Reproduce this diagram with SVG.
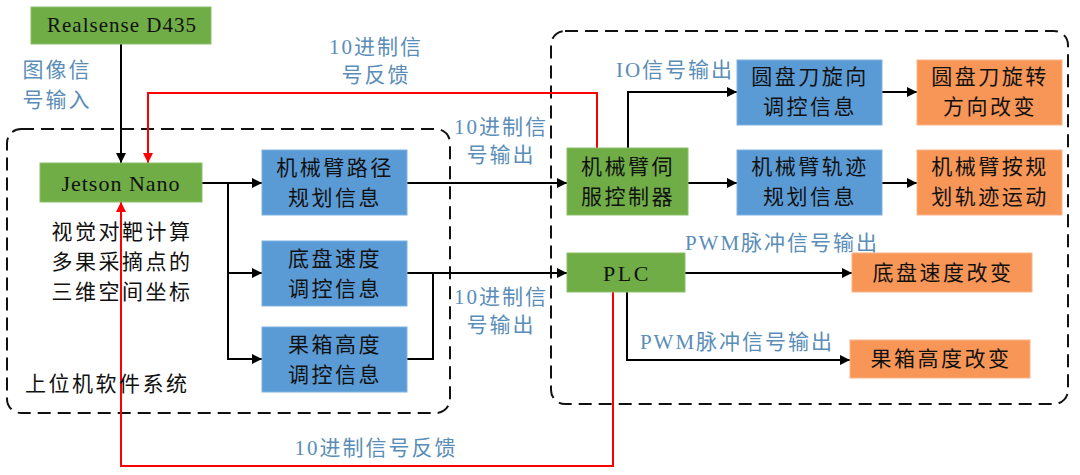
<svg xmlns="http://www.w3.org/2000/svg" width="1080" height="475" viewBox="0 0 1080 475">
<defs>
<marker id="ab" viewBox="0 0 10 10" refX="10" refY="5" markerWidth="10" markerHeight="10" markerUnits="userSpaceOnUse" orient="auto"><path d="M0,0 L10,5 L0,10 z" fill="#000"/></marker>
<marker id="ar" viewBox="0 0 10 10" refX="10" refY="5" markerWidth="10" markerHeight="10" markerUnits="userSpaceOnUse" orient="auto"><path d="M0,0 L10,5 L0,10 z" fill="#ff0000"/></marker>
</defs>
<style>
text{font-family:"Liberation Serif","Noto Sans CJK SC",serif;dominant-baseline:central;}
.t{font-size:21px;fill:#111;text-anchor:middle;letter-spacing:2.5px;}
.l{font-size:21px;fill:#5a8db8;text-anchor:middle;letter-spacing:2px;}
.g{fill:#70ad47;stroke:#8cc068;stroke-width:1;}
.b{fill:#5b9bd5;stroke:#7fb2e0;stroke-width:1;}
.o{fill:#f79656;stroke:#f9b48a;stroke-width:1;}
.dash{fill:none;stroke:#111;stroke-width:2;stroke-dasharray:13 7;}
.c{fill:none;stroke:#000;stroke-width:2;marker-end:url(#ab);}
.cn{fill:none;stroke:#000;stroke-width:2;}
.r{fill:none;stroke:#ff0000;stroke-width:2;marker-end:url(#ar);}
</style>
<g id="groups">
<rect class="dash" x="7" y="129" width="443" height="284" rx="14"/>
<rect class="dash" x="551" y="31" width="517" height="373" rx="14"/>
</g>
<g id="connectors">
<path class="c" d="M121,44 V163"/>
<path class="c" d="M202,183 H262"/>
<path class="c" d="M228,183 V273 H262"/>
<path class="c" d="M228,273 V359 H262"/>
<path class="c" d="M407,183 H567"/>
<path class="c" d="M407,273 H567"/>
<path class="cn" d="M407,359 H433 V273"/>
<path class="c" d="M628,148 V92 H737"/>
<path class="c" d="M882,92 H917"/>
<path class="c" d="M688,183 H737"/>
<path class="c" d="M882,183 H917"/>
<path class="c" d="M685,273 H852"/>
<path class="c" d="M627,292 V360 H850"/>
<path class="r" d="M597,148 V93 H148 V163"/>
<path class="r" d="M613,292 V466 H121 V202"/>
</g>
<g id="realsense"><rect class="g" x="31" y="7" width="180" height="37"/><text class="t" x="122" y="25" style="letter-spacing:1px">Realsense D435</text></g>
<g id="jetson"><rect class="g" x="40" y="163" width="162" height="39"/><text class="t" x="121" y="183" style="letter-spacing:1px;font-size:22px">Jetson Nano</text></g>
<g id="path-plan"><rect class="b" x="262" y="150" width="145" height="65"/><text class="t" x="335" y="168">机械臂路径</text><text class="t" x="335" y="198">规划信息</text></g>
<g id="chassis-speed"><rect class="b" x="262" y="241" width="145" height="65"/><text class="t" x="335" y="259">底盘速度</text><text class="t" x="335" y="289">调控信息</text></g>
<g id="box-height"><rect class="b" x="262" y="327" width="145" height="65"/><text class="t" x="335" y="345">果箱高度</text><text class="t" x="335" y="375">调控信息</text></g>
<g id="servo"><rect class="g" x="567" y="148" width="121" height="67"/><text class="t" x="628" y="167">机械臂伺</text><text class="t" x="628" y="197">服控制器</text></g>
<g id="plc"><rect class="g" x="567" y="253" width="118" height="39"/><text class="t" x="627" y="273" style="font-size:22px">PLC</text></g>
<g id="disc-ctrl"><rect class="b" x="737" y="60" width="145" height="65"/><text class="t" x="810" y="77">圆盘刀旋向</text><text class="t" x="810" y="107">调控信息</text></g>
<g id="traj-ctrl"><rect class="b" x="737" y="150" width="145" height="65"/><text class="t" x="810" y="167">机械臂轨迹</text><text class="t" x="810" y="197">规划信息</text></g>
<g id="disc-out"><rect class="o" x="917" y="60" width="145" height="65"/><text class="t" x="990" y="77">圆盘刀旋转</text><text class="t" x="990" y="107">方向改变</text></g>
<g id="traj-out"><rect class="o" x="917" y="150" width="145" height="65"/><text class="t" x="990" y="167">机械臂按规</text><text class="t" x="990" y="197">划轨迹运动</text></g>
<g id="speed-out"><rect class="o" x="852" y="253" width="180" height="39"/><text class="t" x="943" y="273">底盘速度改变</text></g>
<g id="height-out"><rect class="o" x="850" y="340" width="180" height="38"/><text class="t" x="941" y="359">果箱高度改变</text></g>
<g id="labels">
<text class="l" x="57" y="70">图像信</text><text class="l" x="57" y="100">号输入</text>
<text class="l" x="376" y="47">10进制信</text><text class="l" x="376" y="75">号反馈</text>
<text class="l" x="501" y="127">10进制信</text><text class="l" x="501" y="155">号输出</text>
<text class="l" x="501" y="297">10进制信</text><text class="l" x="501" y="325">号输出</text>
<text class="l" x="675" y="70">IO信号输出</text>
<text class="l" x="782" y="243">PWM脉冲信号输出</text>
<text class="l" x="737" y="342">PWM脉冲信号输出</text>
<text class="l" x="376" y="448">10进制信号反馈</text>
<text class="t" x="122" y="232">视觉对靶计算</text>
<text class="t" x="122" y="262">多果采摘点的</text>
<text class="t" x="122" y="292">三维空间坐标</text>
<text class="t" x="25" y="384" style="text-anchor:start">上位机软件系统</text>
</g>
</svg>
